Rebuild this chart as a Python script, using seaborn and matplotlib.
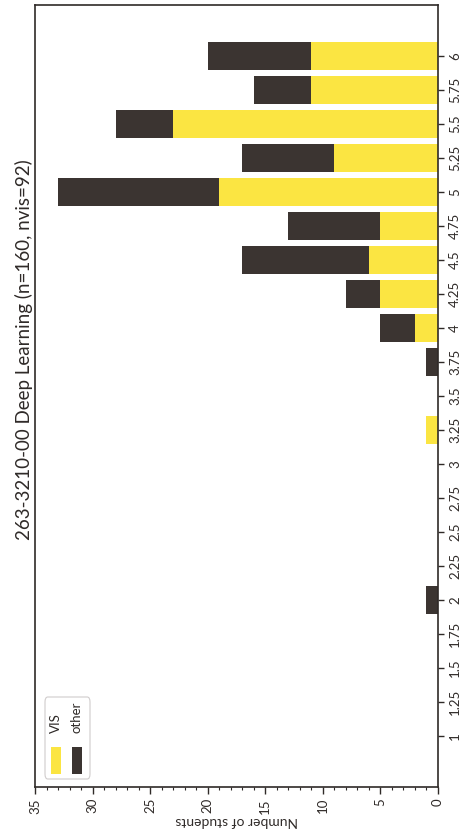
import matplotlib
matplotlib.use("Agg")
import matplotlib.pyplot as plt
from matplotlib.patches import FancyBboxPatch, Rectangle
from matplotlib.ticker import MultipleLocator
import numpy as np
import pandas as pd
import seaborn as sns

# ---- data ----
grades = [1, 1.25, 1.5, 1.75, 2, 2.25, 2.5, 2.75, 3, 3.25, 3.5, 3.75,
          4, 4.25, 4.5, 4.75, 5, 5.25, 5.5, 5.75, 6]
grade_labels = ["1", "1.25", "1.5", "1.75", "2", "2.25", "2.5", "2.75", "3", "3.25",
                "3.5", "3.75", "4", "4.25", "4.5", "4.75", "5", "5.25", "5.5", "5.75", "6"]
vis =   [0, 0, 0, 0, 0, 0, 0, 0, 0, 1, 0, 0, 2, 5, 6, 5, 19, 9, 23, 11, 11]
other = [0, 0, 0, 0, 1, 0, 0, 0, 0, 0, 0, 1, 3, 3, 11, 8, 14, 8, 5, 5, 9]
count_ticks = [0, 5, 10, 15, 20, 25, 30, 35]
title = "263-3210-00 Deep Learning (n=160, nvis=92)"
series_names = ["VIS", "other"]

YELLOW = "#FBE542"
DARK = "#3B3431"
INK = "#2f2a28"

sns.set_theme(style="white")
plt.rcParams["font.family"] = ["Lato", "DejaVu Sans"]

df = pd.DataFrame({"grade": grades, "vis": vis, "other": other})
df["total"] = df["vis"] + df["other"]

fig = plt.figure(figsize=(4.6, 8.34), dpi=100)
ax = fig.add_axes([35 / 460, 1 - 787 / 834, (438 - 35) / 460, (787 - 5) / 834])

sns.barplot(data=df, x="total", y="grade", orient="h", native_scale=True,
            color=DARK, saturation=1, width=0.8, errorbar=None, ax=ax, linewidth=0)
sns.barplot(data=df, x="vis", y="grade", orient="h", native_scale=True,
            color=YELLOW, saturation=1, width=0.8, errorbar=None, ax=ax, linewidth=0)

ax.set_xlim(35, 0)
ax.set_ylim(0.625, 6.375)

ax.set_yticks(grades)
ax.set_yticklabels(grade_labels)
ax.yaxis.tick_right()
ax.set_xticks(count_ticks)
ax.set_xticklabels([str(t) for t in count_ticks])
ax.xaxis.set_minor_locator(MultipleLocator(1))

ax.tick_params(axis="y", which="major", direction="out", length=4, width=1,
               color=INK, labelsize=9.5, labelcolor=INK, labelrotation=90, pad=4,
               left=False, right=True)
ax.tick_params(axis="x", which="major", direction="out", length=5, width=1,
               color=INK, labelsize=9.5, labelcolor=INK, labelrotation=90, pad=3,
               bottom=True)
ax.tick_params(axis="x", which="minor", direction="out", length=2.5, width=0.8,
               color=INK, bottom=True)

for lab in ax.get_yticklabels():
    lab.set_horizontalalignment("left")
    lab.set_verticalalignment("center")

ax.set_ylabel("")
ax.set_xlabel("Number of students", rotation=180, fontsize=10, color=INK, labelpad=1)

for sp in ax.spines.values():
    sp.set_visible(True)
    sp.set_color(INK)
    sp.set_linewidth(1.2)

# title (rotated with the page)
fig.text(24 / 460, 1 - 350 / 834, title, rotation=90, ha="center", va="center",
         fontsize=13.5, color=INK)

# legend (rotated with the page)
W, H = 460, 834
def fx(px):
    return px / W
def fy(py):
    return 1 - py / H

frame = FancyBboxPatch((fx(45), fy(779)), fx(90) - fx(45), fy(697) - fy(779),
                       boxstyle="round,pad=0,rounding_size=0.006",
                       transform=fig.transFigure, facecolor="white",
                       edgecolor="#d0cccc", linewidth=0.8)
fig.patches.append(frame)
handle_colors = [YELLOW, DARK]
handle_x = [51, 72]
for name, c, hx in zip(series_names, handle_colors, handle_x):
    fig.patches.append(Rectangle((fx(hx), fy(774)), fx(10), fy(747) - fy(774),
                                 transform=fig.transFigure, facecolor=c,
                                 edgecolor="none"))
    fig.text(fx(hx + 5), fy(733), name, rotation=90, ha="center", va="bottom",
             fontsize=9.5, color=INK)

fig.savefig("out.png", dpi=100)
